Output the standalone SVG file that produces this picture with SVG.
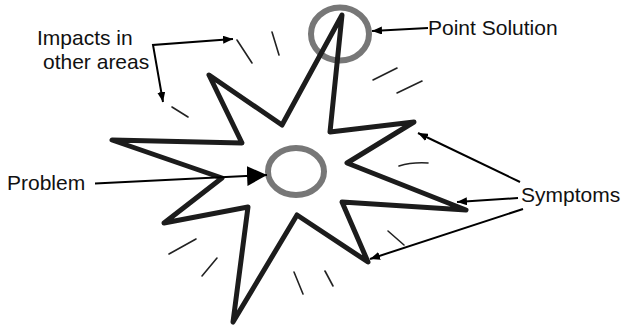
<svg xmlns="http://www.w3.org/2000/svg" width="622" height="325" viewBox="0 0 622 325">
<style>
.lbl{font-family:"Liberation Sans",Arial,sans-serif;font-size:21px;fill:#111}
.star{fill:none;stroke:#1c1c1c;stroke-width:5;stroke-linejoin:round;stroke-linecap:round}
.ring{fill:none;stroke:#777;stroke-width:6}
.ray{stroke:#222;stroke-width:1.6;stroke-linecap:round;fill:none}
.conn{stroke:#000;stroke-width:2;fill:none}
</style>
<defs>
<marker id="ah" viewBox="0 0 10 8" refX="10" refY="4" markerWidth="10" markerHeight="8" markerUnits="userSpaceOnUse" orient="auto-start-reverse"><path d="M0,0 L10,4 L0,8 z" fill="#000"/></marker>
<marker id="ahBig" viewBox="0 0 20 20" refX="20" refY="10" markerWidth="20" markerHeight="20" markerUnits="userSpaceOnUse" orient="auto"><path d="M0,0 L20,10 L0,20 z" fill="#000"/></marker>
</defs>
<rect width="622" height="325" fill="#fff"/>
<g id="rays">
<line class="ray" x1="237" y1="40" x2="252" y2="63"/>
<line class="ray" x1="272" y1="32" x2="279" y2="55"/>
<line class="ray" x1="172" y1="107" x2="188" y2="117"/>
<line class="ray" x1="373" y1="80" x2="397" y2="68"/>
<line class="ray" x1="397" y1="93" x2="422" y2="81"/>
<path class="ray" d="M399,166 Q412,162 428,163"/>
<line class="ray" x1="388" y1="231" x2="404" y2="245"/>
<line class="ray" x1="325" y1="271" x2="333" y2="286"/>
<line class="ray" x1="294" y1="272" x2="303" y2="294"/>
<line class="ray" x1="169" y1="254" x2="196" y2="239"/>
<line class="ray" x1="202" y1="276" x2="217" y2="258"/>
</g>
<g id="point-solution-ring"><ellipse class="ring" cx="340" cy="34" rx="29" ry="26.5"/></g>
<g id="star"><path class="star" d="M342,15 L330,132 L414,122 L347,163 L466,210 L342,202 L368,262 L297,215 L233,322 L248,207 L164,223 L222,178 L112,140 L242,143 L209,75 L282,125 Z"/></g>
<g id="problem-ring"><ellipse class="ring" cx="296" cy="171.5" rx="28" ry="23.5"/></g>
<g id="connectors">
<path class="conn" d="M233,39 L153,45 L163,102" marker-start="url(#ah)" marker-end="url(#ah)"/>
<path class="conn" d="M428,28 L372,31" marker-end="url(#ah)"/>
<path class="conn" d="M95,183.5 L267,175" stroke-width="2.7" marker-end="url(#ahBig)"/>
<path class="conn" d="M520,182 L418,133" marker-end="url(#ah)"/>
<path class="conn" d="M518,198 L457,202" marker-end="url(#ah)"/>
<path class="conn" d="M523,209 L370,259" marker-end="url(#ah)"/>
</g>
<g id="label-impacts"><text class="lbl" x="37" y="45">Impacts in</text><text class="lbl" x="43" y="69">other areas</text></g>
<g id="label-point-solution"><text class="lbl" x="428" y="35">Point Solution</text></g>
<g id="label-problem"><text class="lbl" x="7" y="190">Problem</text></g>
<g id="label-symptoms"><text class="lbl" x="521" y="202">Symptoms</text></g>
</svg>
